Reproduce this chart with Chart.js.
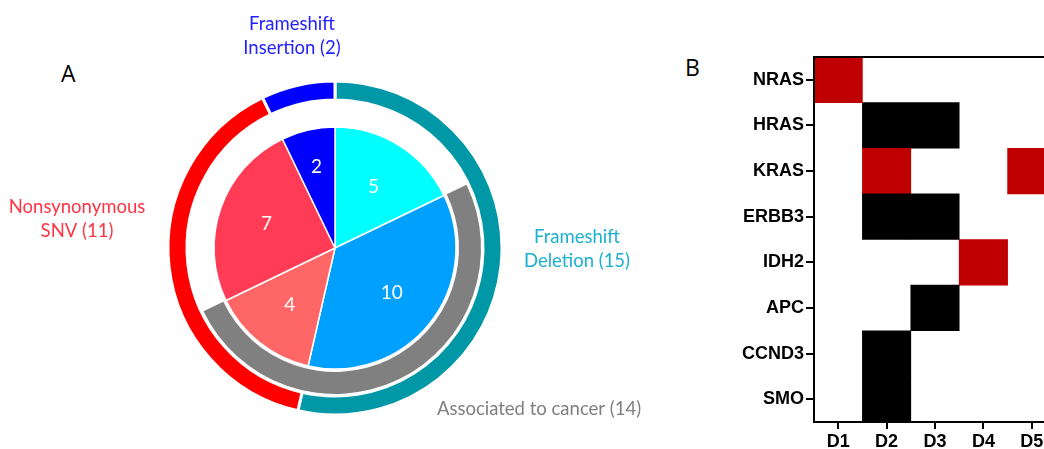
<!DOCTYPE html>
<html>
<head>
<meta charset="utf-8">
<script src="https://cdn.jsdelivr.net/npm/chart.js@4"></script>
<style>
  html, body { margin: 0; padding: 0; background: #fff; overflow: hidden; width: 1044px; height: 449px; }
  #panelA { position: absolute; left: 0; top: 0; width: 680px; height: 449px; }
  #panelB { position: absolute; left: 690px; top: 40px; width: 370px; height: 409px; }
  .tag { position: absolute; font: 23px "Open Sans", Arial, sans-serif; color: #000; line-height: 26px; }
</style>
</head>
<body>
<div class="tag" style="left:61px; top:60px;">A</div>
<div class="tag" style="left:685px; top:54px;">B</div>
<div id="panelA"><canvas id="myChartPie"></canvas></div>
<div id="panelB"><canvas id="myChartHeat"></canvas></div>
<script>
// data for panel A
const mutationTypes = ["Frameshift Deletion", "Nonsynonymous SNV", "Frameshift Insertion"];
const mutationCounts = [15, 11, 2];
// inner pie, clockwise from the top
const pieCounts = [5, 10, 4, 7, 2];
const pieColors = ["#00ffff", "#00a0ff", "#ff6666", "#ff3b55", "#0000ff"];
// grey arc: before / associated to cancer / after
const cancerCounts = [5, 14, 9];

// data for panel B
const genes = ["NRAS", "HRAS", "KRAS", "ERBB3", "IDH2", "APC", "CCND3", "SMO"];
const donors = ["D1", "D2", "D3", "D4", "D5"];
// 0 = none, 1 = black, 2 = red
const heat = [
  [2, 0, 0, 0, 0],
  [0, 1, 1, 0, 0],
  [0, 2, 0, 0, 2],
  [0, 1, 1, 0, 0],
  [0, 0, 0, 2, 0],
  [0, 0, 1, 0, 0],
  [0, 1, 0, 0, 0],
  [0, 1, 0, 0, 0],
];
const heatColors = ["rgba(0,0,0,0)", "#000000", "#c00000"];

// Js untuk Pie
const pieText = {
  id: "pieText",
  afterDatasetsDraw(chart) {
    const c = chart.ctx;
    const meta = chart.getDatasetMeta(4);
    c.save();
    c.fillStyle = "#fff";
    c.font = "19px Lato, 'Open Sans', sans-serif";
    c.textAlign = "center";
    c.textBaseline = "middle";
    meta.data.forEach((arc, i) => {
      const mid = (arc.startAngle + arc.endAngle) / 2;
      const r = arc.outerRadius * (pieCounts[i] < 3 ? 0.69 : 0.6);
      c.fillText(String(pieCounts[i]), arc.x + Math.cos(mid) * r, arc.y + Math.sin(mid) * r);
    });
    c.font = "18.5px Lato, 'Open Sans', sans-serif";
    const lines = [
      ["#2222ff", 292, 24, "Frameshift"], ["#2222ff", 292, 48, "Insertion (" + mutationCounts[2] + ")"],
      ["#ff3344", 77, 207, "Nonsynonymous"], ["#ff3344", 77, 231, "SNV (" + mutationCounts[1] + ")"],
      ["#1ab0d0", 577, 237, "Frameshift"], ["#1ab0d0", 577, 261, "Deletion (" + mutationCounts[0] + ")"],
      ["#7f7f7f", 539, 409, "Associated to cancer (" + cancerCounts[1] + ")"],
    ];
    lines.forEach(([col, x, y, t]) => {
      c.fillStyle = col;
      c.fillText(t, x, y);
    });
    c.restore();
  },
};

new Chart(document.getElementById("myChartPie"), {
  type: "doughnut",
  data: {
    labels: mutationTypes,
    datasets: [
      {
        data: mutationCounts,
        backgroundColor: ["#0097a7", "#ff0000", "#0000ff"],
        borderColor: "#fff",
        borderWidth: 3,
        weight: 19,
      },
      { data: [1], backgroundColor: "rgba(0,0,0,0)", borderWidth: 0, weight: 2 },
      {
        data: cancerCounts,
        backgroundColor: ["rgba(0,0,0,0)", "#808080", "rgba(0,0,0,0)"],
        borderWidth: 0,
        weight: 22,
      },
      { data: [1], backgroundColor: "rgba(0,0,0,0)", borderWidth: 0, weight: 3 },
      {
        data: pieCounts,
        backgroundColor: pieColors,
        borderColor: "#fff",
        borderWidth: 1.5,
        weight: 121,
      },
    ],
  },
  options: {
    responsive: true,
    maintainAspectRatio: false,
    animation: false,
    cutout: 0,
    radius: 167,
    layout: { padding: { left: 0, right: 10, top: 47, bottom: 0 } },
    plugins: { legend: { display: false }, tooltip: { enabled: false } },
  },
  plugins: [pieText],
});

// Js untuk Heatmap
const heatSets = donors.map((d, j) => ({
  label: d,
  data: heat.map((row) => (row[j] ? [j, j + 1] : null)),
  backgroundColor: heat.map((row) => heatColors[row[j]]),
  borderWidth: 0,
  grouped: false,
  barPercentage: 1,
  categoryPercentage: 1,
}));

const boxBorder = {
  id: "boxBorder",
  afterDraw(chart) {
    const { ctx, chartArea: a } = chart;
    ctx.save();
    ctx.strokeStyle = "#000";
    ctx.lineWidth = 2;
    ctx.strokeRect(a.left, a.top, a.right - a.left, a.bottom - a.top);
    ctx.restore();
  },
};

new Chart(document.getElementById("myChartHeat"), {
  type: "bar",
  data: { labels: genes, datasets: heatSets },
  options: {
    indexAxis: "y",
    responsive: true,
    maintainAspectRatio: false,
    animation: false,
    layout: { padding: { left: 0, right: 4, top: 17, bottom: 0 } },
    plugins: { legend: { display: false }, tooltip: { enabled: false } },
    scales: {
      x: {
        type: "linear",
        min: 0,
        max: donors.length,
        afterBuildTicks: (axis) => {
          axis.ticks = donors.map((d, j) => ({ value: j + 0.5 }));
        },
        afterFit: (axis) => { axis.height = 27; },
        ticks: {
          callback: (v) => donors[Math.floor(v)],
          color: "#000",
          font: { family: "'Liberation Sans', Arial", size: 18, weight: "bold" },
          padding: 2,
          maxRotation: 0,
          autoSkip: false,
        },
        grid: { drawOnChartArea: false, drawTicks: true, tickLength: 7, color: "#000", lineWidth: 2 },
        border: { display: false },
      },
      y: {
        afterFit: (axis) => { axis.width = 124; },
        ticks: {
          color: "#000",
          font: { family: "'Liberation Sans', Arial", size: 18, weight: "bold" },
          padding: 2,
        },
        grid: { offset: false, drawOnChartArea: false, drawTicks: true, tickLength: 8, color: "#000", lineWidth: 2 },
        border: { display: false },
      },
    },
  },
  plugins: [boxBorder],
});
</script>
</body>
</html>
